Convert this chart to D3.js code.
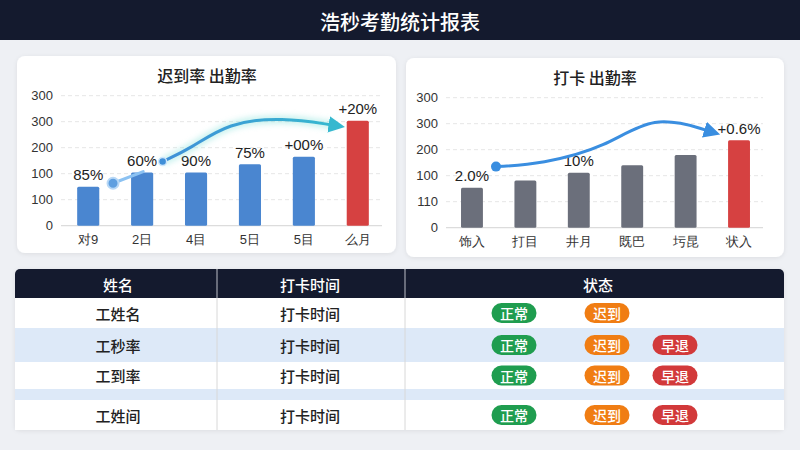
<!DOCTYPE html>
<html>
<head>
<meta charset="utf-8">
<script src="https://cdn.jsdelivr.net/npm/d3@7"></script>
<style>
  body { margin: 0; background: #eef0f4; }
  svg { display: block; font-family: "Noto Sans CJK SC", "Noto Sans", sans-serif; }
</style>
</head>
<body>
<svg id="chart" width="800" height="450"></svg>
<script>
// data
const title = "浩秒考勤统计报表"

const leftTitle = "迟到率 出勤率"
const leftCats = ["对9", "2日", "4目", "5日", "5目", "么月"]
const leftVals = [90, 123, 123, 142, 159, 242]
const leftLabels = ["85%", "60%", "90%", "75%", "+00%", "+20%"]
const leftTicks = ["0", "100", "100", "200", "300", "300"]
// arrow control points in data units: [band index, value]
const leftArrowA = [[0.46, 98], [1.02, 125]]
const leftArrowB = [[1.38, 148], [1.9, 178], [2.6, 238], [3.6, 250], [4.55, 232]]

const rightTitle = "打卡 出勤率"
const rightCats = ["饰入", "打目", "井月", "既巴", "圬昆", "状入"]
const rightVals = [92, 109, 127, 144, 168, 202]
const rightLabels = ["2.0%", "", "10%", "", "", "+0.6%"]
const rightTicks = ["0", "110", "100", "200", "300", "300"]
const rightArrow = [[0.45, 141], [1.3, 147], [2.5, 185], [3.4, 262], [4.44, 223]]

const tickValues = [0, 60, 120, 180, 240, 300]

const headers = ["姓名", "打卡时间", "状态"]
const names = ["工姓名", "工秒率", "工到率", "工姓间"]
const times = ["打卡时间", "打卡时间", "打卡时间", "打卡时间"]
const statuses = [["正常", "迟到"], ["正常", "迟到", "早退"], ["正常", "迟到", "早退"], ["正常", "迟到", "早退"]]
const statusTypes = ["正常", "迟到", "早退"]
const statusColors = ["#1f9d4f", "#f07d13", "#d2393a"]

const svg = d3.select("#chart")
const defs = svg.append("defs")

// shadows / glow
const sh = defs.append("filter").attr("id", "shadow").attr("x", "-10%").attr("y", "-10%").attr("width", "120%").attr("height", "120%")
sh.append("feDropShadow").attr("dx", 0).attr("dy", 1).attr("stdDeviation", 2).attr("flood-color", "#000").attr("flood-opacity", 0.08)
const glow = defs.append("filter").attr("id", "glow").attr("x", "-20%").attr("y", "-50%").attr("width", "140%").attr("height", "200%")
glow.append("feGaussianBlur").attr("stdDeviation", 3)

const grad = defs.append("linearGradient").attr("id", "tealGrad").attr("x1", "0%").attr("x2", "100%")
grad.append("stop").attr("offset", "0%").attr("stop-color", "#3f8fd8")
grad.append("stop").attr("offset", "100%").attr("stop-color", "#36b8cf")

function marker(id, color) {
    defs.append("marker").attr("id", id)
        .attr("viewBox", "0 0 10 10").attr("refX", 3).attr("refY", 5)
        .attr("markerWidth", 5.5).attr("markerHeight", 5.5).attr("orient", "auto")
        .append("path").attr("d", "M0,0 L10,5 L0,10 Z").attr("fill", color)
}
marker("arrTeal", "#36b8cf")
marker("arrBlue", "#3a8ee0")

// title bar
svg.append("rect").attr("x", 0).attr("y", 0).attr("width", 800).attr("height", 40).attr("fill", "#141a2e")
svg.append("text").attr("x", 400).attr("y", 21).attr("text-anchor", "middle").attr("dominant-baseline", "central")
    .attr("fill", "#fff").attr("font-size", 20).attr("font-weight", 500).text(title)

function drawChart(opt) {
    const g = svg.append("g")
    g.append("rect").attr("x", opt.card[0]).attr("y", opt.card[1]).attr("width", opt.card[2]).attr("height", opt.card[3])
        .attr("rx", 8).attr("fill", "#fff").attr("filter", "url(#shadow)")

    g.append("text").attr("x", opt.titleX).attr("y", opt.titleY).attr("text-anchor", "middle").attr("dominant-baseline", "central")
        .attr("font-size", 16).attr("font-weight", 500).attr("fill", "#222").text(opt.title)

    const x = d3.scaleBand().domain(opt.cats).range(opt.xRange).paddingInner(0.59).paddingOuter(0.3)
    const y = d3.scaleLinear().domain([0, 300]).range([opt.base, opt.base - 130])
    const xi = i => x(opt.cats[0]) + x.bandwidth() / 2 + i * x.step()

    // grid
    g.selectAll(".grid").data(tickValues).join("line")
        .attr("x1", opt.gridX[0]).attr("x2", opt.gridX[1])
        .attr("y1", d => y(d)).attr("y2", d => y(d))
        .attr("stroke", d => d === 0 ? "#dcdcdc" : "#e6e6e6")
        .attr("stroke-width", d => d === 0 ? 1.2 : 1)
        .attr("stroke-dasharray", d => d === 0 ? null : "4,3")

    // y axis
    const ya = g.append("g").attr("transform", `translate(${opt.gridX[0]},0)`)
        .call(d3.axisLeft(y).tickValues(tickValues).tickFormat((d, i) => opt.ticks[i]).tickSize(0).tickPadding(8))
    ya.select(".domain").remove()
    ya.selectAll("text").attr("font-size", 13).attr("fill", "#333").attr("font-family", "Liberation Sans, Arial, sans-serif")

    // x axis
    const xa = g.append("g").attr("transform", `translate(0,${opt.base})`)
        .call(d3.axisBottom(x).tickSize(0).tickPadding(9))
    xa.select(".domain").remove()
    xa.selectAll("text").attr("font-size", 13).attr("fill", "#333")

    // bars
    g.selectAll(".bar").data(opt.vals).join("rect")
        .attr("x", (d, i) => x(opt.cats[i]))
        .attr("y", d => y(d))
        .attr("width", x.bandwidth())
        .attr("height", d => y(0) - y(d))
        .attr("rx", 1.5)
        .attr("fill", (d, i) => i === opt.vals.length - 1 ? "#d64141" : opt.barColor)

    // value labels
    g.selectAll(".lbl").data(opt.vals).join("text")
        .attr("x", (d, i) => x(opt.cats[i]) + x.bandwidth() / 2)
        .attr("y", d => y(d) - 12)
        .attr("text-anchor", "middle").attr("dominant-baseline", "central")
        .attr("font-size", 15).attr("fill", "#222")
        .attr("font-family", "Liberation Sans, Arial, sans-serif")
        .text((d, i) => opt.labels[i])

    const line = d3.line().x(d => xi(d[0])).y(d => y(d[1])).curve(d3.curveBasis)
    return { g, line, xi, y }
}

// left chart
const L = drawChart({
    card: [17, 56, 379, 197], title: leftTitle, titleX: 207, titleY: 75,
    cats: leftCats, vals: leftVals, labels: leftLabels, ticks: leftTicks,
    xRange: [61, 385], gridX: [61, 382], base: 225.7, barColor: "#4a86d0"
})
L.g.append("path").attr("d", L.line(leftArrowA)).attr("fill", "none")
    .attr("stroke", "#8cc2f2").attr("stroke-width", 3).attr("stroke-linecap", "round")
L.g.append("circle").attr("cx", L.xi(leftArrowA[0][0])).attr("cy", L.y(leftArrowA[0][1])).attr("r", 5.5)
    .attr("fill", "#5f9fe0").attr("stroke", "#b8d8f6").attr("stroke-width", 2)
L.g.append("path").attr("d", L.line(leftArrowB)).attr("fill", "none")
    .attr("stroke", "#7fe0d8").attr("stroke-width", 7).attr("opacity", 0.5).attr("filter", "url(#glow)")
L.g.append("path").attr("d", L.line(leftArrowB)).attr("fill", "none")
    .attr("stroke", "url(#tealGrad)").attr("stroke-width", 3).attr("stroke-linecap", "round")
    .attr("marker-end", "url(#arrTeal)")
L.g.append("circle").attr("cx", L.xi(leftArrowB[0][0])).attr("cy", L.y(leftArrowB[0][1])).attr("r", 4)
    .attr("fill", "#3f8fd8").attr("stroke", "#cde6fb").attr("stroke-width", 1.5)

// right chart
const R = drawChart({
    card: [406, 58, 378, 199], title: rightTitle, titleX: 595, titleY: 77,
    cats: rightCats, vals: rightVals, labels: rightLabels, ticks: rightTicks,
    xRange: [445, 766], gridX: [446, 763], base: 227.7, barColor: "#6b6f7b"
})
R.g.append("path").attr("d", R.line(rightArrow)).attr("fill", "none")
    .attr("stroke", "#3a8ee0").attr("stroke-width", 3).attr("stroke-linecap", "round")
    .attr("marker-end", "url(#arrBlue)")
R.g.append("circle").attr("cx", R.xi(rightArrow[0][0])).attr("cy", R.y(rightArrow[0][1])).attr("r", 5)
    .attr("fill", "#3a8ee0")

// table
const colEdges = [15, 217, 405, 784]
const colCenters = [118, 310, 598]
const rowTops = [298, 328, 362, 389, 400]
const rowHeights = [30, 34, 27, 11, 30]
const rowFills = ["#ffffff", "#dde9f8", "#ffffff", "#dde9f8", "#ffffff"]
const dataRows = [0, 1, 2, 4] // index 3 is the thin stripe
const badgeX = d3.scaleOrdinal().domain(statusTypes).range([514, 607, 675])
const badgeColor = d3.scaleOrdinal().domain(statusTypes).range(statusColors)

const t = svg.append("g")
t.append("rect").attr("x", colEdges[0]).attr("y", 269).attr("width", colEdges[3] - colEdges[0]).attr("height", 161)
    .attr("rx", 5).attr("fill", "#fff").attr("filter", "url(#shadow)")
t.selectAll(".row").data(rowTops).join("rect")
    .attr("x", colEdges[0]).attr("y", d => d).attr("width", colEdges[3] - colEdges[0])
    .attr("height", (d, i) => rowHeights[i]).attr("fill", (d, i) => rowFills[i])
t.append("path")
    .attr("d", `M${colEdges[0]},298 V274 a5,5 0 0 1 5,-5 H${colEdges[3] - 5} a5,5 0 0 1 5,5 V298 Z`)
    .attr("fill", "#141a2e")
t.selectAll(".vdiv").data([colEdges[1], colEdges[2]]).join("line")
    .attr("x1", d => d).attr("x2", d => d).attr("y1", 269).attr("y2", 430)
    .attr("stroke", "#d8d8d8").attr("stroke-width", 1)
t.selectAll(".hdiv").data([colEdges[1], colEdges[2]]).join("line")
    .attr("x1", d => d).attr("x2", d => d).attr("y1", 270).attr("y2", 298)
    .attr("stroke", "#5a6072").attr("stroke-width", 1)
t.selectAll(".hdr").data(headers).join("text")
    .attr("x", (d, i) => colCenters[i]).attr("y", 284)
    .attr("text-anchor", "middle").attr("dominant-baseline", "central")
    .attr("fill", "#fff").attr("font-size", 15).attr("font-weight", 500).text(d => d)

names.forEach((n, i) => {
    const r = dataRows[i]
    const cy = rowTops[r] + rowHeights[r] / 2
    t.append("text").attr("x", colCenters[0]).attr("y", cy).attr("text-anchor", "middle").attr("dominant-baseline", "central")
        .attr("font-size", 15).attr("font-weight", 500).attr("fill", "#222").text(n)
    t.append("text").attr("x", colCenters[1]).attr("y", cy).attr("text-anchor", "middle").attr("dominant-baseline", "central")
        .attr("font-size", 15).attr("font-weight", 500).attr("fill", "#222").text(times[i])
    const b = t.selectAll(null).data(statuses[i]).join("g")
        .attr("transform", d => `translate(${badgeX(d)},${cy})`)
    b.append("rect").attr("x", -22.5).attr("y", -10).attr("width", 45).attr("height", 20).attr("rx", 10)
        .attr("fill", d => badgeColor(d))
    b.append("text").attr("text-anchor", "middle").attr("dominant-baseline", "central")
        .attr("fill", "#fff").attr("font-size", 14).attr("font-weight", 500).text(d => d)
})
</script>
</body>
</html>
